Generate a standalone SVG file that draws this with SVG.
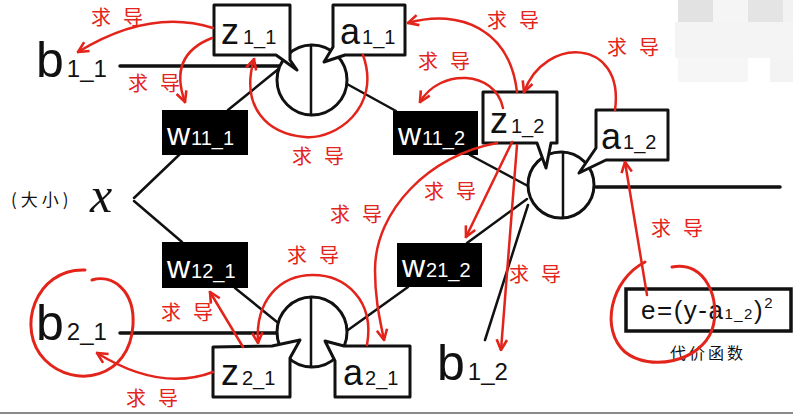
<svg xmlns="http://www.w3.org/2000/svg" width="793" height="414" viewBox="0 0 793 414">
<defs>
<style>
.ln{stroke:#111;stroke-width:2.5;fill:none;stroke-linecap:round}
.thk{stroke-width:3.5}
.bub{fill:#fff;stroke:#111;stroke-width:3;stroke-linejoin:round}
.neu{fill:#fff;stroke:#111;stroke-width:3}
.wbox{fill:#000}
.wt{fill:#fff;font-family:"Liberation Sans",sans-serif;font-size:32px}
.lbl{fill:#111;font-family:"Liberation Sans",sans-serif;font-size:36px}
.big{font-size:50px}
.s20{font-size:20px}
.s24{font-size:24px}
.red{stroke:#e3241b;stroke-width:2.5;fill:none;stroke-linecap:round;marker-end:url(#ah)}
.redc{stroke:#e3241b;stroke-width:3;fill:none;stroke-linecap:round}
.rl{fill:#e3241b;font-family:"Noto Sans CJK SC",sans-serif;font-size:20px;letter-spacing:12px}
.cj{fill:#111;font-family:"Noto Sans CJK SC",sans-serif}
</style>
<marker id="ah" viewBox="0 0 10 10" refX="9" refY="5" markerWidth="13" markerHeight="13" markerUnits="userSpaceOnUse" orient="auto">
<path d="M1,1 L9,5 L1,9" fill="none" stroke="#e3241b" stroke-width="2"/>
</marker>
</defs>
<rect width="793" height="414" fill="#fff"/>
<g id="mosaic">
<rect x="678" y="0" width="35" height="22" fill="#e2e2e2"/>
<rect x="713" y="0" width="35" height="22" fill="#f5f5f5"/>
<rect x="748" y="0" width="35" height="22" fill="#e4e4e4"/>
<rect x="783" y="0" width="10" height="22" fill="#f2f2f2"/>
<rect x="675" y="22" width="118" height="36" fill="#f4f4f4"/>
<rect x="678" y="58" width="70" height="24" fill="#f6f6f6"/>
<rect x="770" y="58" width="23" height="24" fill="#f3f3f3"/>
</g>
<rect x="0" y="412" width="793" height="2" fill="#8a8a8a"/>

<g id="connectors">
<line class="ln" x1="134" y1="198" x2="180" y2="154"/>
<line class="ln" x1="134" y1="201" x2="182" y2="242"/>
<line class="ln thk" x1="120" y1="66" x2="280" y2="66"/>
<line class="ln thk" x1="120" y1="333" x2="280" y2="333"/>
<line class="ln" x1="228" y1="110" x2="281" y2="67"/>
<line class="ln" x1="347" y1="84" x2="396" y2="111"/>
<line class="ln" x1="470" y1="155" x2="528" y2="186"/>
<line class="ln" x1="467" y1="243" x2="527" y2="199"/>
<line class="ln" x1="485" y1="340" x2="528" y2="205"/>
<line class="ln" x1="235" y1="288" x2="282" y2="326"/>
<line class="ln" x1="408" y1="287" x2="348" y2="330"/>
<line class="ln thk" x1="596" y1="187" x2="780" y2="187"/>
</g>

<g id="n-x">
<text x="11" y="206" class="cj" style="font-size:17px" letter-spacing="4">(大小)</text>
<text x="90" y="212" fill="#111" font-family="Liberation Serif,serif" font-style="italic" font-size="50">x</text>
</g>
<g id="n-b11"><text x="36" y="77" class="lbl big">b<tspan class="s24" dx="3">1_1</tspan></text></g>
<g id="n-b21"><text x="36" y="340" class="lbl big">b<tspan class="s24" dx="3">2_1</tspan></text></g>
<g id="n-b12"><text x="437" y="380" class="lbl big">b<tspan class="s24" dx="3">1_2</tspan></text></g>

<g id="n-w11_1"><rect class="wbox" x="162" y="110" width="86" height="45"/><text class="wt" x="167" y="145">w<tspan class="s20" dx="1">11_1</tspan></text></g>
<g id="n-w12_1"><rect class="wbox" x="162" y="242" width="86" height="46"/><text class="wt" x="167" y="278">w<tspan class="s20" dx="1">12_1</tspan></text></g>
<g id="n-w11_2"><rect class="wbox" x="393" y="111" width="85" height="44"/><text class="wt" x="398" y="145">w<tspan class="s20" dx="1">11_2</tspan></text></g>
<g id="n-w21_2"><rect class="wbox" x="397" y="243" width="85" height="44"/><text class="wt" x="402" y="277">w<tspan class="s20" dx="1">21_2</tspan></text></g>

<g id="n-neuron1_1"><circle class="neu" cx="312" cy="80" r="35"/><line class="ln" x1="311" y1="45" x2="311" y2="115"/></g>
<g id="n-neuron1_2"><circle class="neu" cx="561" cy="185" r="33"/><line class="ln" x1="563" y1="152" x2="563" y2="218"/></g>
<g id="n-neuron2_1"><circle class="neu" cx="312" cy="332" r="35"/><line class="ln" x1="311" y1="297" x2="311" y2="367"/></g>

<g id="n-z11"><path class="bub" d="M214,5 L290,5 L290,60 L297,70 L276,55 L214,55 Z"/><text class="lbl" x="221" y="44">z<tspan class="s20" dx="4">1_1</tspan></text></g>
<g id="n-a11"><path class="bub" d="M333,5 L405,5 L405,55 L345,55 L324,62 L333,47 Z"/><text class="lbl" x="340" y="44">a<tspan class="s20" dx="2">1_1</tspan></text></g>
<g id="n-z12"><path class="bub" d="M483,92 L557,92 L557,143 L551,143 L546,168 L537,143 L483,143 Z"/><text class="lbl" x="490" y="133">z<tspan class="s20" dx="3">1_2</tspan></text></g>
<g id="n-a12"><path class="bub" d="M596,110 L668,110 L668,160 L606,160 L579,173 L596,148 Z"/><text class="lbl" x="601" y="149">a<tspan class="s20" dx="2">1_2</tspan></text></g>
<g id="n-z21"><path class="bub" d="M213,347 L272,346 L300,340 L290,358 L290,397 L213,397 Z"/><text class="lbl" x="221" y="385">z<tspan class="s20" dx="3">2_1</tspan></text></g>
<g id="n-a21"><path class="bub" d="M344,346 L410,346 L410,397 L335,397 L335,361 L325,341 Z"/><text class="lbl" x="343" y="385">a<tspan class="s20" dx="2">2_1</tspan></text></g>

<g id="n-cost">
<rect x="626" y="289" width="165" height="42" fill="#fff" stroke="#111" stroke-width="3.5"/>
<text x="641" y="319" class="lbl" style="font-size:26px;letter-spacing:1.5px">e=(y-a<tspan style="font-size:15px">1_2</tspan>)<tspan style="font-size:15px" dy="-11">2</tspan></text>
<text x="670" y="359" class="cj" style="font-size:16px" letter-spacing="3">代价函数</text>
</g>

<g id="derivatives">
<path class="red" d="M213,28 Q150,8 78,52"/>
<path class="red" d="M212,38 Q168,55 185,102"/>
<path class="red" d="M363,55 C382,108 335,140 305,137 C268,134 240,108 254,59"/>
<path class="red" d="M517,92 C510,30 460,8 408,23"/>
<path class="red" d="M503,108 C495,70 440,68 420,102"/>
<path class="red" d="M615,110 C625,38 545,35 524,92"/>
<path class="red" d="M647,295 L625,162"/>
<path class="red" d="M512,142 L466,237"/>
<path class="red" d="M517,145 L501,350"/>
<path class="red" d="M497,143 C430,155 375,210 375,270 C375,300 380,320 384,340"/>
<path class="red" d="M367,345 C375,300 345,275 313,275 C280,275 255,300 258,343"/>
<path class="red" d="M243,347 L210,292"/>
<path class="red" d="M213,372 Q160,392 97,353"/>
<path class="redc" d="M85,270 C35,268 15,330 45,360 C75,390 130,378 133,325 C135,290 112,274 92,280"/>
<path class="redc" d="M672,267 C705,260 722,300 712,330 C700,362 650,372 625,352 C600,330 610,280 645,262"/>
<text class="rl" x="91" y="25">求导</text>
<text class="rl" x="128" y="91">求导</text>
<text class="rl" x="292" y="164">求导</text>
<text class="rl" x="487" y="28">求导</text>
<text class="rl" x="418" y="69">求导</text>
<text class="rl" x="607" y="55">求导</text>
<text class="rl" x="651" y="236">求导</text>
<text class="rl" x="424" y="199">求导</text>
<text class="rl" x="509" y="282">求导</text>
<text class="rl" x="330" y="222">求导</text>
<text class="rl" x="287" y="263">求导</text>
<text class="rl" x="161" y="320">求导</text>
<text class="rl" x="126" y="406">求导</text>
</g>
</svg>
